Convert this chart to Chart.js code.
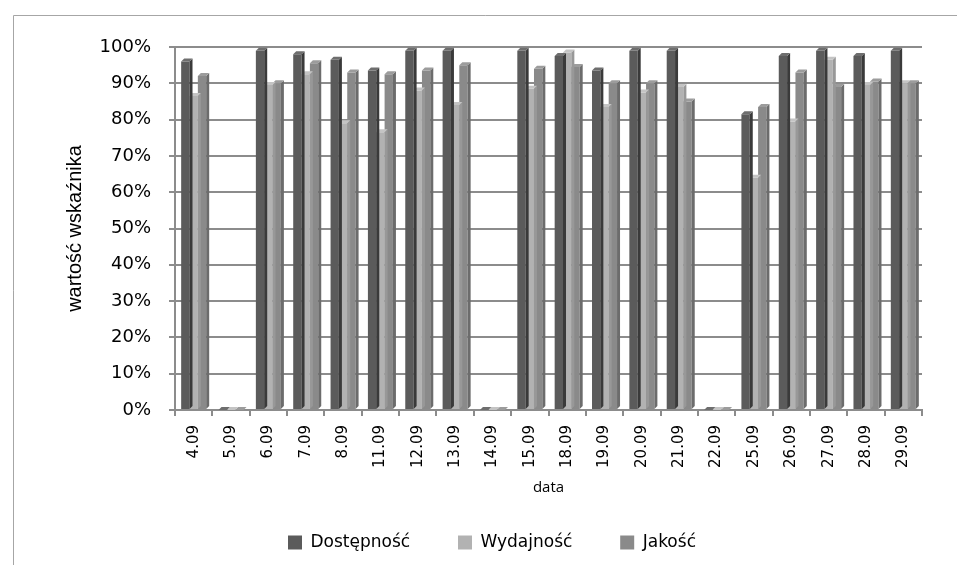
<!DOCTYPE html>
<html>
<head>
<meta charset="utf-8">
<script src="https://cdn.jsdelivr.net/npm/chart.js@4.4.0/dist/chart.umd.min.js"></script>
<style>
  html, body { margin: 0; padding: 0; background: #fff; }
  #wrap { width: 957px; height: 565px; position: relative; }
</style>
</head>
<body>
<div id="wrap"><canvas id="chart"></canvas></div>
<script>
const dates = ['4.09', '5.09', '6.09', '7.09', '8.09', '11.09', '12.09', '13.09', '14.09', '15.09',
               '18.09', '19.09', '20.09', '21.09', '22.09', '25.09', '26.09', '27.09', '28.09', '29.09'];
const dostepnosc = [96, 0, 99, 98, 96.5, 93.5, 99, 99, 0, 99, 97.5, 93.5, 99, 99, 0, 81.5, 97.5, 99, 97.5, 99];
const wydajnosc  = [86.5, 0, 89.5, 92.5, 79, 76.5, 88, 84, 0, 88.5, 98.5, 83.5, 87.5, 89, 0, 64, 79.5, 96.5, 89.5, 90];
const jakosc     = [92, 0, 90, 95.5, 93, 92.5, 93.5, 95, 0, 94, 94.5, 90, 90, 85, 0, 83.5, 93, 89, 90.5, 90];
const yTicks = [0, 10, 20, 30, 40, 50, 60, 70, 80, 90, 100];

const GRID = '#8c8c8c';
const FONT = "'DejaVu Sans', Verdana, sans-serif";

// side and top faces so the bars look like the old 3D column style
const bar3d = {
  id: 'bar3d',
  afterDatasetDraw(chart, args) {
    const ds = chart.data.datasets[args.index];
    const ctx = chart.ctx;
    const d = 3;
    ctx.save();
    args.meta.data.forEach(bar => {
      const { x, y, base, width } = bar.getProps(['x', 'y', 'base', 'width'], true);
      const l = x - width / 2, r = x + width / 2;
      ctx.fillStyle = ds.sideColor;
      ctx.beginPath();
      ctx.moveTo(r, y); ctx.lineTo(r + d, y - d); ctx.lineTo(r + d, base - d); ctx.lineTo(r, base);
      ctx.closePath(); ctx.fill();
      ctx.fillStyle = ds.topColor;
      ctx.beginPath();
      ctx.moveTo(l, y); ctx.lineTo(l + d, y - d); ctx.lineTo(r + d, y - d); ctx.lineTo(r, y);
      ctx.closePath(); ctx.fill();
    });
    ctx.restore();
  }
};

// thin outer frame around the chart
const frame = {
  id: 'frame',
  beforeDraw(chart) {
    const ctx = chart.ctx;
    ctx.save();
    ctx.fillStyle = '#fff';
    ctx.fillRect(0, 0, chart.width, chart.height);
    ctx.strokeStyle = '#a6a6a6';
    ctx.lineWidth = 1;
    ctx.beginPath();
    ctx.moveTo(13.5, chart.height);
    ctx.lineTo(13.5, 15.5);
    ctx.lineTo(chart.width, 15.5);
    ctx.stroke();
    ctx.restore();
  }
};

new Chart(document.getElementById('chart'), {
  type: 'bar',
  data: {
    labels: dates,
    datasets: [
      { label: 'Dostępność', data: dostepnosc, backgroundColor: '#5b5b5b', sideColor: '#3a3a3a', topColor: '#6e6e6e' },
      { label: 'Wydajność', data: wydajnosc, backgroundColor: '#b2b2b2', sideColor: '#989898', topColor: '#c4c4c4' },
      { label: 'Jakość', data: jakosc, backgroundColor: '#8a8a8a', sideColor: '#6c6c6c', topColor: '#9c9c9c' }
    ]
  },
  options: {
    responsive: true,
    maintainAspectRatio: false,
    animation: false,
    datasets: { bar: { categoryPercentage: 0.67, barPercentage: 1 } },
    layout: { padding: { left: 62, right: 35, top: 47, bottom: 4 } },
    plugins: {
      tooltip: { enabled: false },
      legend: {
        position: 'bottom',
        labels: {
          color: '#000',
          font: { family: FONT, size: 17 },
          boxWidth: 14,
          boxHeight: 14,
          padding: 10,
          generateLabels(chart) {
            const tails = ['       ', '       ', ''];
            return chart.data.datasets.map((ds, i) => ({
              text: ds.label + tails[i],
              fillStyle: ds.backgroundColor,
              strokeStyle: ds.backgroundColor,
              lineWidth: 0,
              datasetIndex: i
            }));
          }
        }
      }
    },
    scales: {
      x: {
        grid: { display: true, drawOnChartArea: false, color: GRID, lineWidth: 2, tickLength: 6 },
        border: { display: true, color: GRID, width: 2 },
        ticks: {
          color: '#000',
          font: { family: FONT, size: 15 },
          minRotation: 90,
          maxRotation: 90,
          autoSkip: false,
          padding: 9
        },
        title: {
          display: true,
          text: 'data',
          color: '#000',
          font: { family: "'Open Sans', sans-serif", size: 15 },
          padding: { top: 4, bottom: 27 }
        },
        afterFit(scale) { scale.height = 114; }
      },
      y: {
        min: 0,
        max: 100,
        afterBuildTicks(scale) { scale.ticks = yTicks.map(v => ({ value: v })); },
        grid: { color: GRID, lineWidth: 2, tickLength: 6 },
        border: { display: true, color: GRID, width: 2 },
        ticks: {
          color: '#000',
          font: { family: FONT, size: 18 },
          padding: 18,
          callback: v => v + '%'
        },
        title: {
          display: true,
          text: 'wartość wskaźnika',
          color: '#000',
          font: { family: "'Liberation Sans', Arial, sans-serif", size: 20 },
          padding: { top: 1, bottom: 0 }
        },
        afterFit(scale) { scale.width = 113; }
      }
    }
  },
  plugins: [frame, bar3d]
});
</script>
</body>
</html>
